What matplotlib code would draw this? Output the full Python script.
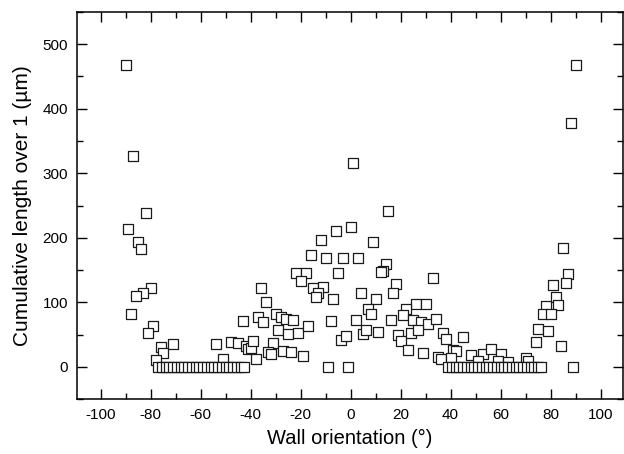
import matplotlib
matplotlib.use("Agg")
import matplotlib.pyplot as plt
from matplotlib.ticker import MultipleLocator

plt.rcParams.update({
    "font.family": ["Liberation Sans", "DejaVu Sans"],
    "axes.unicode_minus": False,
    "xtick.direction": "in",
    "ytick.direction": "in",
    "xtick.top": True,
    "ytick.right": True,
})

# wall orientation (deg) and cumulative length (um) for the non-zero points
angle = [
    -90, -87, -82, -89, -85, -84, -80, -83, -86, -88, -79, -81, -71, -76, -75, -78,
    -54, -51, -48, -45, -42, -41, -40, -39, -43, -37, -38,
    -36, -34, -35, -30, -28, -26, -23, -29, -25, -21, -17, -31, -33, -32, -27, -24, -19,
    -22, -18, -20, -16, -12, -10, -6, -5, -15, -11, -13, -14, -7, -8, -4, -2,
    1, 0, 9, -3, 3, 15, 14, 13, 12, 18, 33, 4, 10, 17, 7, 8, 26, 30, 22, 21,
    2, 16, 25, 28, 31, 34, 5, 6, 11, 19, 20, 24, 27, 23, 29, 35, 36,
    37, 38, 45, 41, 42, 40, 48, 53, 56, 60, 51, 59, 63, 70, 71,
    85, 87, 86, 81, 82, 83, 78, 77, 80, 75, 79, 74, 84, 90, 88,
]
length = [
    467, 326, 239, 213, 193, 182, 122, 114, 110, 82, 63, 53, 36, 31, 21, 11,
    35, 12, 39, 37, 33, 28, 30, 40, 71, 77, 13,
    122, 100, 69, 82, 77, 75, 72, 57, 51, 52, 63, 37, 23, 20, 24, 23, 17,
    145, 145, 133, 174, 196, 168, 211, 146, 122, 124, 115, 108, 106, 71, 42, 48,
    316, 217, 194, 168, 169, 241, 160, 148, 147, 129, 137, 114, 105, 114, 90, 82, 98, 98, 90, 80,
    73, 72, 73, 69, 67, 74, 51, 57, 54, 50, 40, 52, 58, 27, 21, 16, 12,
    52, 43, 47, 27, 25, 14, 18, 20, 28, 20, 10, 9, 7, 14, 9,
    184, 144, 130, 127, 109, 96, 94, 82, 82, 59, 55, 39, 32, 467, 378,
]

# orientations where the cumulative length is zero
zero_angles = [
    -77, -75.5, -74, -72.5, -71, -69.5, -68, -66.5, -65, -63.5, -62, -60.5,
    -59, -57.5, -56, -54.5, -53, -51.5, -50, -48.5, -47, -45.5, -44, -42.5,
    -9, -1,
    39, 40.5, 42, 43.5, 45, 46.5, 48, 49.5, 51, 52.5, 54, 55.5, 57, 58.5,
    60, 61.5, 63, 64.5, 66, 67.5, 69, 70.5, 72, 73.5, 75, 76, 89,
]

fig = plt.figure(figsize=(6.24, 4.54), dpi=100)
ax = fig.add_axes([0.1226, 0.1205, 0.8758, 0.8537])

sq = dict(marker="s", s=50, facecolors="white", edgecolors="#1a1a1a", linewidths=0.9)
ax.scatter(angle, length, **sq)
ax.scatter(zero_angles, [0] * len(zero_angles), **sq)

ax.set_xlim(-109.6, 109)
ax.set_ylim(-50, 550)
ax.xaxis.set_major_locator(MultipleLocator(20))
ax.xaxis.set_minor_locator(MultipleLocator(10))
ax.yaxis.set_major_locator(MultipleLocator(100))
ax.yaxis.set_minor_locator(MultipleLocator(50))
ax.tick_params(which="major", length=7, width=1, labelsize=11, pad=6)
ax.tick_params(which="minor", length=4, width=1)
for sp in ax.spines.values():
    sp.set_linewidth(1.1)

ax.set_xlabel("Wall orientation (°)", fontsize=14.5, labelpad=5)
ax.set_ylabel("Cumulative length over 1 (µm)", fontsize=15, labelpad=8)

fig.savefig("out.png", dpi=100)
